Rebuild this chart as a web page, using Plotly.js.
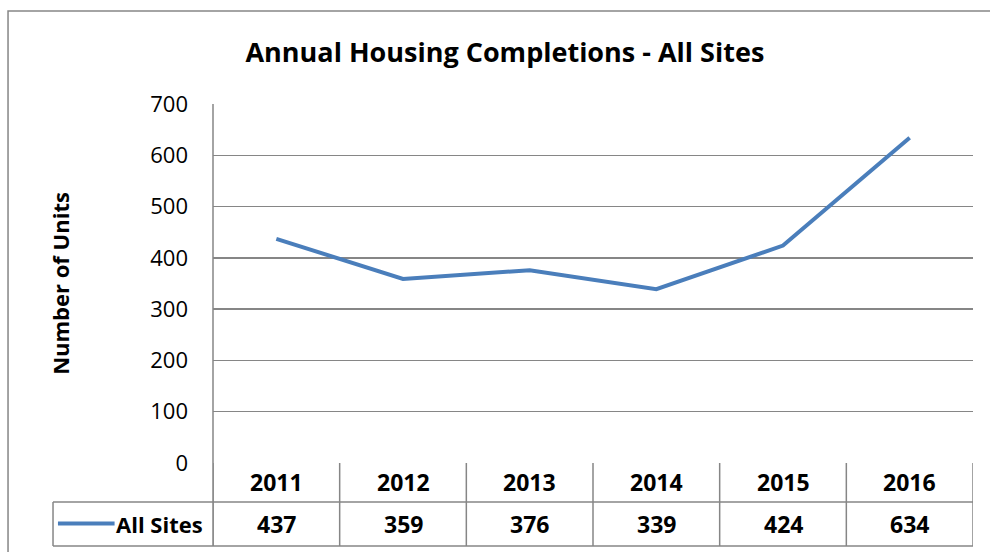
<!DOCTYPE html>
<html><head><meta charset="utf-8">
<script src="https://cdn.plot.ly/plotly-3.0.1.min.js"></script>
<style>html,body{margin:0;padding:0;background:#fff}#chart{width:990px;height:552px}</style>
</head><body><div id="chart"></div>
<script>
const years = ['2011','2012','2013','2014','2015','2016'];
const allSites = [437, 359, 376, 339, 424, 634];
const seriesName = 'All Sites';
const yTicks = [0,100,200,300,400,500,600,700];

const FONT = '"Open Sans", "Liberation Sans", sans-serif';
const GRID = '#868686';
const BLUE = '#4A7EBB';

// geometry (paper coords)
const row1 = -0.1086, row2 = -0.2312;
const tableLeft = -0.2105;

const shapes = [];
// outer chart border
shapes.push({type:'rect', xref:'paper', yref:'paper', x0:-0.2697, x1:1.2, y0:-0.6, y1:1.259, line:{color:GRID, width:1.5}});
// y-axis line extending through table
shapes.push({type:'line', xref:'paper', yref:'paper', x0:0, x1:0, y0:row2, y1:1, line:{color:GRID, width:1.5}});
// category dividers in table
for (let i = 0; i <= years.length; i++) {
  shapes.push({type:'line', xref:'x', yref:'paper', x0:i-0.5, x1:i-0.5, y0:row2, y1:0, line:{color:GRID, width:1.5}});
}
// horizontal table lines
shapes.push({type:'line', xref:'paper', yref:'paper', x0:tableLeft, x1:1, y0:row1, y1:row1, line:{color:GRID, width:1.5}});
shapes.push({type:'line', xref:'paper', yref:'paper', x0:tableLeft, x1:1, y0:row2, y1:row2, line:{color:GRID, width:1.5}});
shapes.push({type:'line', xref:'paper', yref:'paper', x0:tableLeft, x1:tableLeft, y0:row2, y1:row1, line:{color:GRID, width:1.5}});
// legend key in table
shapes.push({type:'line', xref:'paper', yref:'paper', x0:-0.204, x1:-0.1295, y0:-0.1685, y1:-0.1685, line:{color:BLUE, width:4}});

const annotations = [];
years.forEach((y, i) => {
  annotations.push({xref:'x', yref:'paper', x:i, y:(row1)/2, text:'<b>'+y+'</b>', showarrow:false, font:{family:FONT, size:23, color:'#000'}, xanchor:'center', yanchor:'middle'});
  annotations.push({xref:'x', yref:'paper', x:i, y:(row1+row2)/2, text:'<b>'+allSites[i]+'</b>', showarrow:false, font:{family:FONT, size:23, color:'#000'}, xanchor:'center', yanchor:'middle'});
});
annotations.push({xref:'paper', yref:'paper', x:-0.0105, y:(row1+row2)/2, text:'<b>'+seriesName+'</b>', showarrow:false, font:{family:FONT, size:22, color:'#000'}, xanchor:'right', yanchor:'middle'});

const data = [{
  x: years.map((_, i) => i), y: allSites, type:'scatter', mode:'lines', name: seriesName,
  line:{color:BLUE, width:4}, hoverinfo:'x+y'
}];

const layout = {
  width:990, height:552,
  margin:{l:213, r:17, t:104, b:89},
  paper_bgcolor:'#fff', plot_bgcolor:'#fff',
  showlegend:false,
  title:{text:'<b>Annual Housing Completions - All Sites</b>', font:{family:FONT, size:27, color:'#000'}, x:0.51, xanchor:'center', y:0.905, yanchor:'middle'},
  xaxis:{type:'linear', range:[-0.5, years.length-0.5], showgrid:false, zeroline:false, showticklabels:false, ticks:'', showline:false, fixedrange:true},
  yaxis:{range:[0,700], tickvals:yTicks, ticktext:yTicks.map(String), showgrid:true, gridcolor:GRID, gridwidth:1.5, zeroline:false, showline:false, ticks:'', ticklabelstandoff:24,
    tickfont:{family:FONT, size:22, color:'#000'},
    title:{text:'<b>Number of Units</b>', font:{family:FONT, size:22, color:'#000'}, standoff:74}, fixedrange:true},
  shapes, annotations
};
Plotly.newPlot('chart', data, layout, {displayModeBar:false, staticPlot:true});
</script></body></html>
